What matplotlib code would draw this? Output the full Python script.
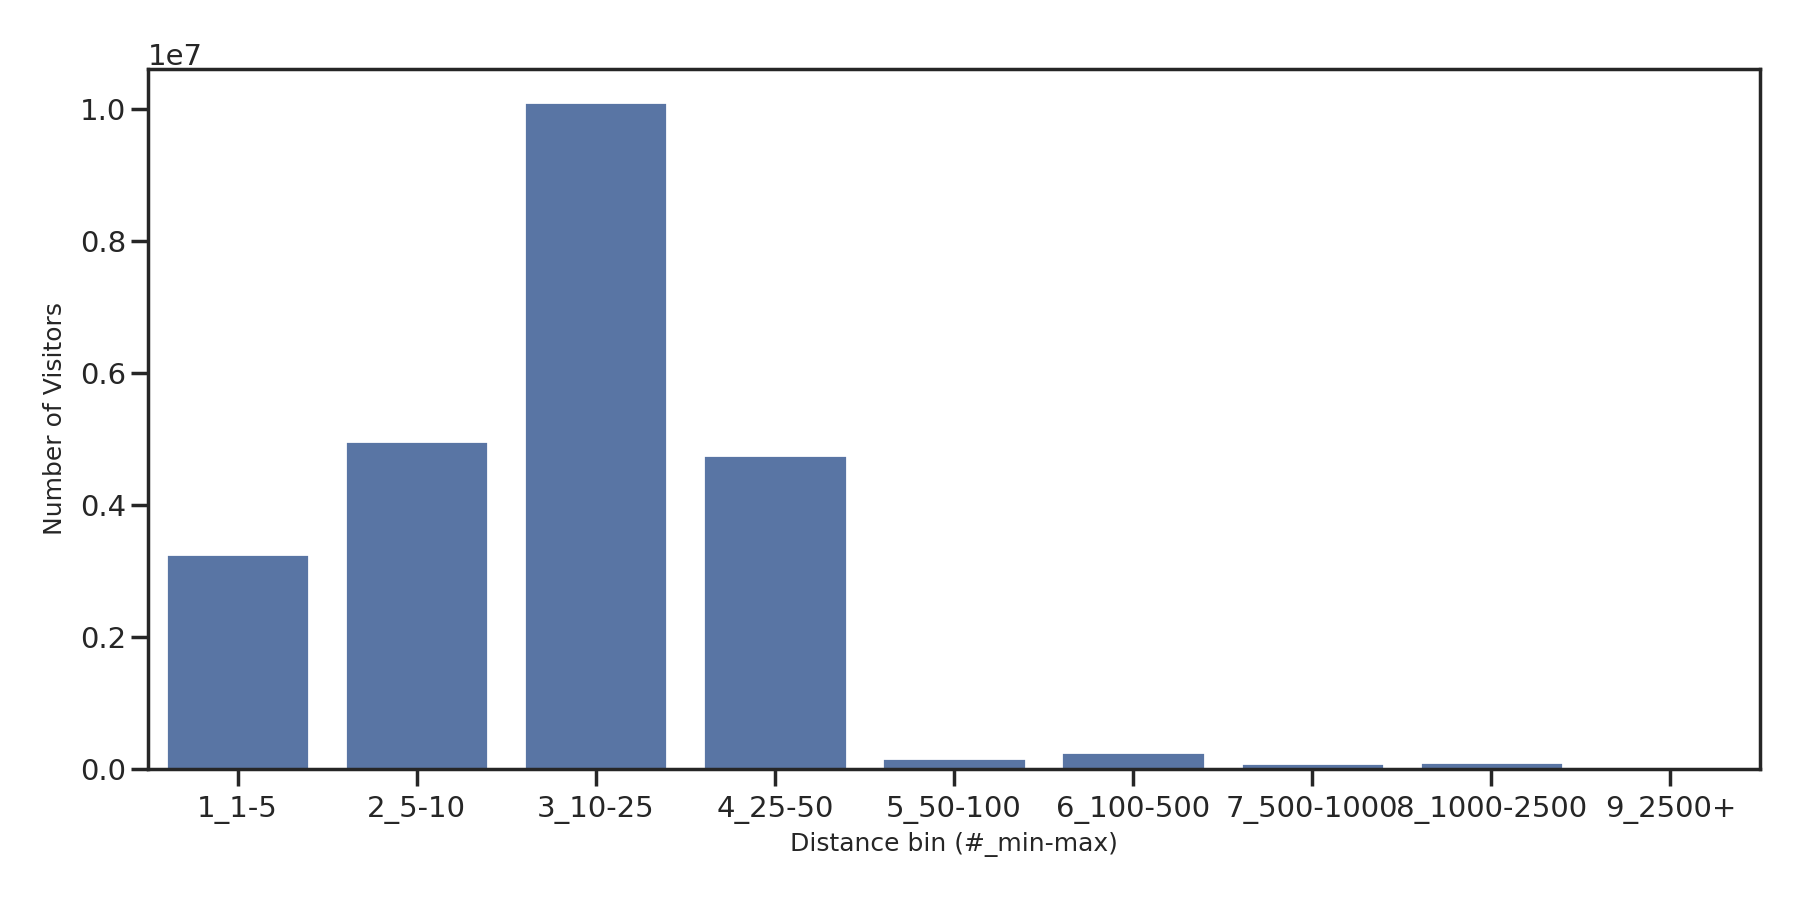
import matplotlib
matplotlib.use("Agg")
import matplotlib.pyplot as plt
import seaborn as sns
import pandas as pd

# visitors per distance bin
distance_bins = ["1_1-5", "2_5-10", "3_10-25", "4_25-50", "5_50-100",
                 "6_100-500", "7_500-1000", "8_1000-2500", "9_2500+"]
visitors = [3.25e6, 4.97e6, 1.0096e7, 4.75e6, 1.67e5,
            2.59e5, 9.1e4, 1.06e5, 5.0e3]

df = pd.DataFrame({"distance_bin": distance_bins, "visitors": visitors})

sns.set_theme(style="ticks", context="poster")

fig, ax = plt.subplots(figsize=(18, 9), dpi=100)
sns.barplot(data=df, x="distance_bin", y="visitors", color="#4C72B0", ax=ax)

ax.set_xlabel("Distance bin (#_min-max)", fontsize=18, labelpad=6)
ax.set_ylabel("Number of Visitors", fontsize=18, labelpad=9.5)
ax.tick_params(axis="both", labelsize=21)
ax.tick_params(axis="x", pad=7.5)
ax.yaxis.get_offset_text().set_fontsize(21)

fig.subplots_adjust(left=0.0822, right=0.9778, top=0.9233, bottom=0.1456)
fig.savefig("out.png", dpi=100)
